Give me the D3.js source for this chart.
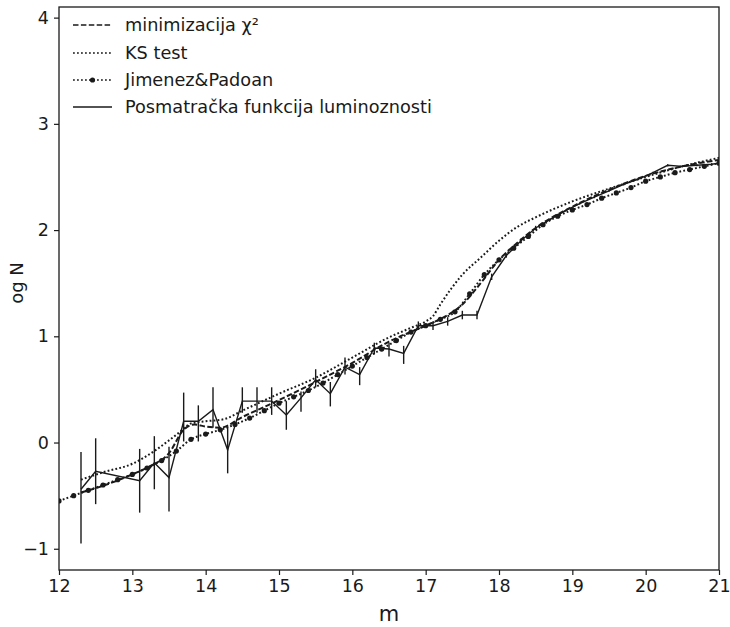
<!DOCTYPE html>
<html><head><meta charset="utf-8">
<script src="https://cdn.jsdelivr.net/npm/d3@7"></script>
<style>body{margin:0;background:#fff}svg{display:block}text{font-family:"DejaVu Sans",sans-serif;fill:#1a1a1a}</style>
</head><body><svg id="c" width="730" height="627"></svg>
<script>
// Observed luminosity function (m, logN, lower, upper)
const obsM  = [12.3,12.5,13.1,13.3,13.5,13.7,13.9,14.1,14.3,14.5,14.7,14.9,15.1,15.3,15.5,15.7,15.9,16.1,16.3,16.5,16.7,16.9,17.1,17.3,17.5,17.7,17.9,18.1,18.3,18.5,18.7,18.9,19.1,19.3,19.5,19.7,19.9,20.1,20.3,20.5,20.7,20.9,21.1];
const obsY  = [-0.44,-0.27,-0.36,-0.19,-0.33,0.20,0.20,0.31,-0.07,0.39,0.39,0.39,0.26,0.42,0.59,0.46,0.71,0.64,0.89,0.88,0.84,1.10,1.10,1.14,1.20,1.20,1.56,1.76,1.90,2.02,2.10,2.18,2.25,2.31,2.37,2.43,2.48,2.54,2.61,2.60,2.61,2.62,2.64];
const obsLo = [-0.95,-0.58,-0.66,-0.44,-0.65,0.01,0.01,0.14,-0.29,0.28,0.28,0.26,0.12,0.29,0.52,0.34,0.64,0.54,0.83,0.81,0.74,1.06,1.06,1.10,1.16,1.16,1.53,1.74,1.88,2.00,2.09,2.17,2.24,2.30,2.36,2.42,2.47,2.53,2.60,2.59,2.60,2.61,2.63];
const obsHi = [-0.09,0.04,-0.06,0.06,-0.04,0.47,0.35,0.52,0.15,0.52,0.52,0.52,0.39,0.48,0.69,0.57,0.80,0.71,0.94,0.94,0.91,1.14,1.14,1.18,1.24,1.24,1.59,1.78,1.92,2.04,2.11,2.19,2.26,2.32,2.38,2.44,2.49,2.55,2.62,2.61,2.62,2.63,2.65];

// Jimenez & Padoan
const jpM = [12.0,12.2,12.4,12.6,12.8,13.0,13.2,13.4,13.6,13.8,14.0,14.2,14.4,14.6,14.8,15.0,15.2,15.4,15.6,15.8,16.0,16.2,16.4,16.6,16.8,17.0,17.2,17.4,17.6,17.8,18.0,18.2,18.4,18.6,18.8,19.0,19.2,19.4,19.6,19.8,20.0,20.2,20.4,20.6,20.8,21.0];
const jpY = [-0.55,-0.50,-0.45,-0.40,-0.35,-0.30,-0.24,-0.17,-0.08,0.03,0.08,0.12,0.17,0.23,0.30,0.37,0.43,0.49,0.56,0.64,0.72,0.80,0.88,0.96,1.04,1.10,1.16,1.23,1.40,1.58,1.72,1.83,1.94,2.05,2.13,2.19,2.24,2.30,2.35,2.40,2.46,2.50,2.54,2.57,2.60,2.63];

// chi^2 minimization
const chiM = [12.3,12.5,12.75,13.0,13.25,13.5,13.7,13.85,14.0,14.2,14.5,15.0,15.5,16.0,16.5,17.0,17.25,17.5,17.75,18.0,18.25,18.5,19.0,19.5,20.0,20.5,21.0];
const chiY = [-0.47,-0.43,-0.37,-0.30,-0.22,-0.10,0.12,0.17,0.15,0.14,0.24,0.40,0.57,0.75,0.95,1.10,1.18,1.30,1.50,1.72,1.88,2.02,2.22,2.38,2.51,2.60,2.66];

// KS test
const ksM = [12.3,12.6,13.0,13.3,13.5,13.65,13.8,14.0,14.25,14.5,15.0,15.5,16.0,16.5,16.8,17.0,17.1,17.2,17.35,17.5,17.75,18.0,18.25,18.5,19.0,19.5,20.0,20.5,21.0];
const ksY = [-0.35,-0.28,-0.20,-0.08,0.02,0.10,0.18,0.20,0.22,0.30,0.46,0.61,0.80,0.99,1.08,1.14,1.19,1.30,1.45,1.58,1.74,1.90,2.03,2.12,2.27,2.39,2.50,2.60,2.68];

const xTicks = [12,13,14,15,16,17,18,19,20,21];
const yTicks = [-1,0,1,2,3,4];
const legendLabels = ["minimizacija \u03c7\u00b2","KS test","Jimenez&Padoan","Posmatra\u010dka funkcija luminoznosti"];

const svg = d3.select("#c");
const L=59,R=719,T=7,B=570;
const x = d3.scaleLinear().domain([12,21]).range([L,R]);
const y = d3.scaleLinear().domain([-1.2,4.1]).range([B,T]);
const ink = "#1a1a1a";

svg.append("clipPath").attr("id","clip").append("rect").attr("x",L).attr("y",T).attr("width",R-L).attr("height",B-T);
const g = svg.append("g").attr("clip-path","url(#clip)");

const line = d3.line().x(d=>x(d[0])).y(d=>y(d[1]));
const curve = d3.line().x(d=>x(d[0])).y(d=>y(d[1])).curve(d3.curveMonotoneX);

// observed
const obs = obsM.map((m,i)=>[m,obsY[i]]);
g.append("path").datum(obs).attr("d",line).attr("fill","none").attr("stroke",ink).attr("stroke-width",1.4);
g.selectAll("line.err").data(obsM).enter().append("line")
  .attr("x1",(d)=>x(d)).attr("x2",(d)=>x(d))
  .attr("y1",(d,i)=>y(obsLo[i])).attr("y2",(d,i)=>y(obsHi[i]))
  .attr("stroke",ink).attr("stroke-width",1.4);

// chi2 dashed
g.append("path").datum(chiM.map((m,i)=>[m,chiY[i]])).attr("d",curve).attr("fill","none")
  .attr("stroke",ink).attr("stroke-width",2).attr("stroke-dasharray","5.5,2.4");
// KS dotted
g.append("path").datum(ksM.map((m,i)=>[m,ksY[i]])).attr("d",curve).attr("fill","none")
  .attr("stroke",ink).attr("stroke-width",2).attr("stroke-dasharray","1.8,2.2");
// J&P dotted with dots
const jp = jpM.map((m,i)=>[m,jpY[i]]);
g.append("path").datum(jp).attr("d",curve).attr("fill","none")
  .attr("stroke",ink).attr("stroke-width",2).attr("stroke-dasharray","1.8,2.2");
g.selectAll("circle.jp").data(jp).enter().append("circle")
  .attr("cx",d=>x(d[0])).attr("cy",d=>y(d[1])).attr("r",2.6).attr("fill",ink);

// frame
svg.append("rect").attr("x",L).attr("y",T).attr("width",R-L).attr("height",B-T)
  .attr("fill","none").attr("stroke",ink).attr("stroke-width",1.3);

// axes
const xa = svg.append("g").attr("transform",`translate(0,${B})`)
  .call(d3.axisBottom(x).tickValues(xTicks).tickSize(5).tickPadding(5).tickFormat(d3.format("d")));
const ya = svg.append("g").attr("transform",`translate(${L},0)`)
  .call(d3.axisLeft(y).tickValues(yTicks).tickSize(5).tickPadding(5).tickFormat(d=>d<0?"\u2212"+Math.abs(d):d));
[xa,ya].forEach(a=>{
  a.select(".domain").remove();
  a.selectAll(".tick line").attr("stroke",ink).attr("stroke-width",1.2);
  a.selectAll(".tick text").attr("font-size",17.5).attr("font-family","DejaVu Sans").attr("fill",ink);
});

svg.append("text").attr("x",(L+R)/2).attr("y",621).attr("text-anchor","middle").attr("font-size",21).text("m");
svg.append("text").attr("transform","translate(23,283) rotate(-90)").attr("text-anchor","middle").attr("font-size",18).text("og N");

// legend
const lg = svg.append("g");
const rowsY=[25,53,80,107];
const styles=[{da:"5.5,2.4",m:false,w:1.6},{da:"1.8,2.2",m:false,w:1.6},{da:"1.8,2.2",m:true,w:1.6},{da:null,m:false,w:1.4}];
legendLabels.forEach((lab,i)=>{
  const ln = lg.append("line").attr("x1",73).attr("x2",112).attr("y1",rowsY[i]).attr("y2",rowsY[i])
    .attr("stroke",ink).attr("stroke-width",styles[i].w);
  if(styles[i].da) ln.attr("stroke-dasharray",styles[i].da);
  if(styles[i].m) lg.append("circle").attr("cx",92.5).attr("cy",rowsY[i]).attr("r",2.6).attr("fill",ink);
  lg.append("text").attr("x",125).attr("y",rowsY[i]).attr("dy","0.36em").attr("font-size",17.7).text(lab);
});
</script></body></html>
